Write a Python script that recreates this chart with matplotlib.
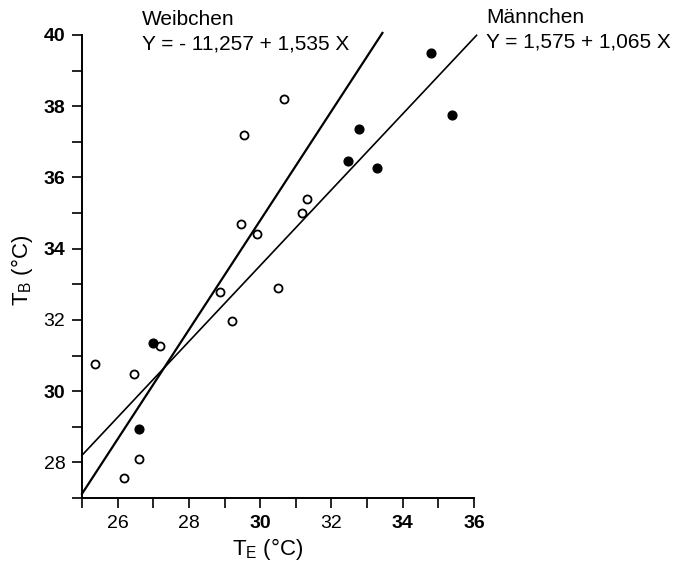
import matplotlib
matplotlib.use("Agg")
import matplotlib.pyplot as plt
import numpy as np
from matplotlib.ticker import MultipleLocator

plt.rcParams['font.family'] = ['Liberation Sans', 'DejaVu Sans']

# Weibchen (open circles)
fem_te = [25.37, 26.46, 26.18, 26.60, 27.19, 28.88, 29.21, 29.47, 29.90, 30.50, 31.18, 31.30, 29.55, 30.67]
fem_tb = [30.77, 30.49, 27.56, 28.09, 31.27, 32.78, 31.97, 34.68, 34.40, 32.90, 34.99, 35.40, 37.20, 38.20]
# Männchen (filled circles)
mal_te = [26.99, 26.60, 32.47, 32.78, 33.29, 34.80, 35.39]
mal_tb = [31.36, 28.93, 36.47, 37.36, 36.27, 39.49, 37.75]

# regression lines
fem_a, fem_b = -11.257, 1.535
mal_a, mal_b = 1.575, 1.065
fem_x = [25.0, 33.43]
mal_x = [25.0, 36.07]

x_ticks = [26, 28, 30, 32, 34, 36]
y_ticks = [28, 30, 32, 34, 36, 38, 40]
x_bold = [30, 34, 36]
y_bold = [30, 34, 36, 38, 40]

fig = plt.figure(figsize=(6.79, 5.66), dpi=100)
ax = fig.add_axes([82/679, 1-498/566, (474-82)/679, (498-35)/566])

ax.plot(fem_x, [fem_a + fem_b*x for x in fem_x], color='black', lw=1.6, clip_on=False)
ax.plot(mal_x, [mal_a + mal_b*x for x in mal_x], color='black', lw=1.2, clip_on=False)
ax.plot(fem_te, fem_tb, 'o', ms=5.8, mfc='white', mec='black', mew=1.3, clip_on=False)
ax.plot(mal_te, mal_tb, 'o', ms=6.3, mfc='black', mec='black', mew=1.0, clip_on=False)

ax.set_xlim(25, 36)
ax.set_ylim(27, 40)
for s in ['top', 'right']:
    ax.spines[s].set_visible(False)
for s in ['left', 'bottom']:
    ax.spines[s].set_linewidth(1.4)

ax.set_xticks(x_ticks)
ax.set_yticks(y_ticks)
ax.xaxis.set_minor_locator(MultipleLocator(1))
ax.yaxis.set_minor_locator(MultipleLocator(1))
ax.tick_params(which='both', direction='out', length=7, width=1.2, labelsize=14, pad=5)
ax.set_xticklabels([str(v) for v in x_ticks])
ax.set_yticklabels([str(v) for v in y_ticks])
for lbl, v in zip(ax.get_xticklabels(), x_ticks):
    if v in x_bold:
        lbl.set_fontweight('bold')
for lbl, v in zip(ax.get_yticklabels(), y_ticks):
    if v in y_bold:
        lbl.set_fontweight('bold')

fig.text(268/679, 1-555/566, r'$\mathregular{T_E}$ (°C)', fontsize=16, ha='center', va='baseline')
fig.text(22/679, 1-270/566, r'$\mathregular{T_B}$ (°C)', fontsize=16, ha='center', va='center', rotation=90)

fig.text(142/679, 1-25/566, 'Weibchen', fontsize=15, ha='left', va='baseline')
fig.text(142/679, 1-50/566, 'Y = - 11,257 + 1,535 X', fontsize=15, ha='left', va='baseline')
fig.text(486/679, 1-23/566, 'Männchen', fontsize=15, ha='left', va='baseline')
fig.text(486/679, 1-48/566, 'Y = 1,575 + 1,065 X', fontsize=15, ha='left', va='baseline')

fig.savefig('out.png', dpi=100)
